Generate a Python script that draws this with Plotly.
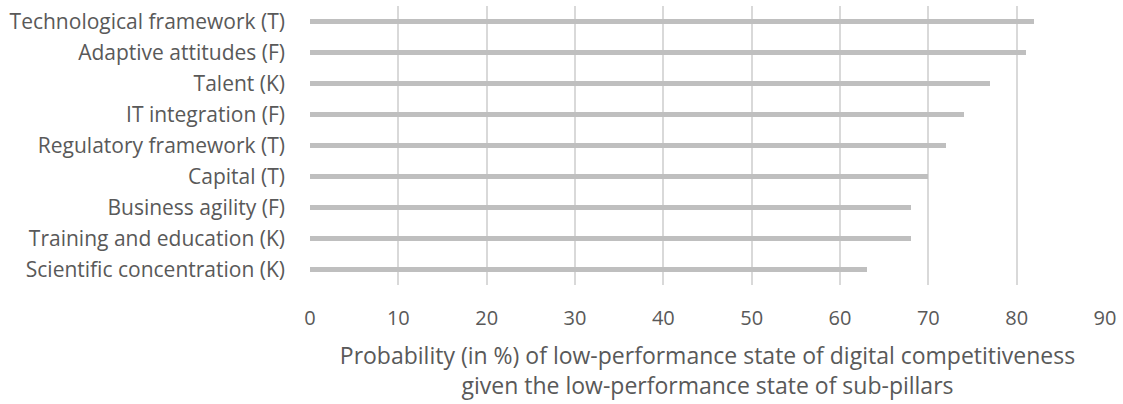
import plotly.graph_objects as go

categories = [
    "Technological framework (T)",
    "Adaptive attitudes (F)",
    "Talent (K)",
    "IT integration (F)",
    "Regulatory framework (T)",
    "Capital (T)",
    "Business agility (F)",
    "Training and education (K)",
    "Scientific concentration (K)",
]
values = [82, 81, 77, 74, 72, 70, 68, 68, 63]
x_ticks = [0, 10, 20, 30, 40, 50, 60, 70, 80, 90]

fig = go.Figure(go.Bar(
    x=values, y=categories, orientation="h",
    marker=dict(color="#bfbfbf", line=dict(width=0)),
    width=0.17,
))

font = "Open Sans, Carlito, Calibri, sans-serif"
fig.update_layout(
    width=1123, height=404,
    margin=dict(l=310, r=18, t=6, b=119),
    plot_bgcolor="white", paper_bgcolor="white",
    font=dict(family=font, size=20, color="#595959"),
    showlegend=False,
    bargap=0,
)
fig.update_xaxes(
    range=[0, 90], tickvals=x_ticks, showgrid=True, gridcolor="#d9d9d9", gridwidth=1.5,
    zeroline=False, showline=False, ticks="", ticklabelstandoff=19, automargin=False,
    tickfont=dict(size=20, color="#595959"),
    title=dict(text="Probability (in %) of low-performance state of digital competitiveness<br>given the low-performance state of sub-pillars",
               font=dict(size=23, color="#595959"), standoff=17),
)
fig.update_yaxes(
    categoryorder="array", categoryarray=categories[::-1],
    showgrid=False, zeroline=False, showline=False, ticks="", automargin=False,
    ticklabelstandoff=24, tickfont=dict(size=21, color="#595959"),
)
fig.write_html("out.html", config={"displayModeBar": False},
               post_script="document.body.style.margin='0';document.body.style.padding='0';")
